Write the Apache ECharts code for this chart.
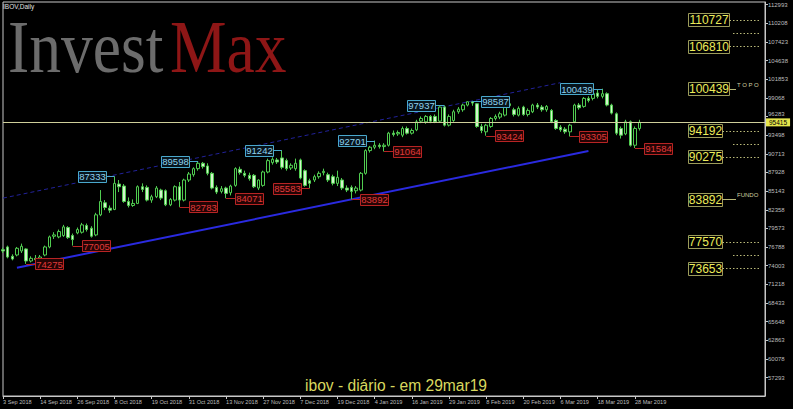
<!DOCTYPE html>
<html><head><meta charset="utf-8">
<script src="https://cdn.jsdelivr.net/npm/echarts@6/dist/echarts.min.js"></script>
<style>html,body{margin:0;padding:0;background:#000;}#c{width:793px;height:409px;}</style>
</head><body><div id="c"></div>
<script>
// ---------- DATA ----------
const sessionDays = [
  ['Sep', '2018', [3,4,5,6,10,11,12,13,14,17,18,19,20,21,24,25,26,27,28]],
  ['Oct', '2018', [1,2,3,4,5,8,9,10,11,15,16,17,18,19,22,23,24,25,26,29,30,31]],
  ['Nov', '2018', [1,5,6,7,8,9,12,13,14,16,19,21,22,23,26,27,28,29,30]],
  ['Dec', '2018', [3,4,5,6,7,10,11,12,13,14,17,18,19,20,21,26,27,28]],
  ['Jan', '2019', [2,3,4,7,8,9,10,11,14,15,16,17,18,21,22,23,24,28,29,30,31]],
  ['Feb', '2019', [1,4,5,6,7,8,11,12,13,14,15,18,19,20,21,22,25,26,27,28]],
  ['Mar', '2019', [1,6,7,8,11,12,13,14,15,18,19,20,21,22,25,26,27,28,29]]
];
const emptySlots = 27; // blank space right of the last bar

// [open, close, low, high]
const ohlc = [
  [76400,76200,75900,76700],[76800,75300,75100,77000],[75400,75000,74800,75700],[75600,76600,75400,76800],
  [76200,76900,75900,77300],[76500,74700,74275,76600],[74700,75100,74500,75400],[75100,74900,74600,75600],
  [74900,75300,74700,75600],[75600,76800,75400,77000],[76800,78300,76600,78500],[78400,78600,78000,79000],
  [78300,79100,78100,79400],[78500,79800,78300,80100],[79700,78200,78000,79900],[78500,77900,77005,78800],
  [78900,79400,78700,79700],[79000,80100,78800,80400],[80000,79400,79100,80300],[79600,78400,78200,79900],
  [78600,81600,78400,81900],[81600,83600,81400,85300],[83400,82700,82300,83800],[82600,82300,81900,83000],
  [82400,86300,82300,87333],[86200,85800,85000,86800],[85900,83600,83400,86200],[83600,83000,82700,84200],
  [83000,83300,82800,83900],[83300,85800,83200,86000],[85800,85400,85000,86300],[85700,83800,83600,86000],
  [83800,84300,83400,84600],[84300,85600,84100,85900],[85300,84100,83800,85500],[85200,83100,82900,85400],
  [83100,83900,82900,84100],[83800,85800,83600,86000],[85800,83800,82783,86500],[83800,86800,83600,87000],
  [86800,87700,86500,88000],[87600,88500,87300,88700],[88500,89300,88200,89598],[89300,88800,88500,89500],
  [88900,87800,87500,89300],[87800,85600,85400,88000],[85700,85000,84700,86000],[85100,85500,84800,85900],
  [85600,84800,84071,85800],[84900,85900,84500,86100],[86000,88500,85800,88700],[88400,87900,87600,88800],
  [87800,87500,87200,88200],[87500,87000,86700,87900],[87500,85800,85600,87700],[85600,86800,85300,86900],
  [86000,88000,85800,88200],[88000,89700,87800,90000],[89400,89900,89100,90200],[89800,89500,89200,90100],
  [90100,88700,88400,91242],[89700,88500,88200,90000],[88600,89000,88300,89300],[88500,89300,88200,90000],
  [89800,87100,86900,90000],[88200,86000,85800,88400],[86700,86300,85583,87000],[86800,87300,86500,87600],
  [87300,87800,87000,88100],[87900,88100,87500,88500],[87600,86800,86500,87900],[87300,86300,86000,87600],
  [86300,87200,85900,88200],[86800,85600,85300,87100],[85600,85300,85000,86000],[85700,85100,83892,86000],
  [85200,85600,84800,85900],[85300,87800,85100,88000],[87800,91200,87600,91400],[91200,91700,90900,91900],
  [91700,92000,91400,92701],[92000,91800,91500,92300],[91800,92000,91064,92300],[92000,93800,91800,94000],
  [93800,93600,93300,94200],[93700,93900,93400,94200],[93500,94500,93200,94800],[94500,93800,93600,94800],
  [93800,94200,93600,94500],[94300,95500,94100,95800],[95600,96000,95300,96300],[95500,96300,95200,96500],
  [96300,95600,95300,96500],[96300,95500,95300,96600],[95600,97700,95400,97800],[97700,95000,94800,97937],
  [95000,96300,94800,96600],[95700,97000,95500,97300],[97000,97400,96700,97700],[97300,98000,97000,98200],
  [98000,98500,97800,98550],[98500,98300,97900,98587],[98200,94800,94600,98300],[94800,94200,93800,95200],
  [94000,95000,93424,95200],[94800,96000,94600,96200],[96000,96300,95700,96600],[96200,96700,95900,97000],
  [96500,98000,96300,98200],[97900,98200,97600,98400],[97300,96600,96300,97600],[96500,97500,96300,97800],
  [97700,96600,96400,97900],[96600,97200,96300,97500],[97000,98000,96800,98200],[98000,97700,97400,98300],
  [97700,97300,97000,98000],[97300,97800,97000,98000],[97200,95500,95300,97400],[95700,94500,94300,95900],
  [94700,94300,94000,95000],[94400,94000,93700,94700],[94000,95000,93305,95200],[95500,98000,95300,98200],
  [98000,97600,97300,98300],[97800,99000,97600,99200],[99000,98700,98400,99300],[99000,99700,98700,99900],
  [99800,99300,99000,100300],[99300,99700,99000,100439],[99700,98000,97800,99900],[98000,96800,96600,98200],
  [96700,93800,93500,96900],[94500,93500,93000,94800],[93700,95500,93500,95800],[95500,92000,91800,95700],
  [92000,94500,91584,94800],[94500,95415,94200,95800]
];

const yTicks = [57293,60078,62863,65648,68433,71218,74003,76788,79573,82358,85143,87928,90713,93498,96283,99068,101853,104638,107423,110208,112993];
const lastPrice = 95415;

const highIdx = [24, 42, 60, 80, 95, 101, 129];
const highVal = [87333, 89598, 91242, 92701, 97937, 98587, 100439];
const lowIdx  = [5, 15, 38, 48, 66, 75, 82, 104, 122, 136];
const lowVal  = [74275, 77005, 82783, 84071, 85583, 83892, 91064, 93424, 93305, 91584];

const levelValues = [110727, 106810, 100439, 94192, 90275, 83892, 77570, 73653];
const midLevels = [108768, 92233, 75611];
const levelTags = {100439: 'T O P O', 83892: 'FUNDO'};

const upperChannel = [[0, 84097], [120, 101350]];
const lowerChannel = [[3, 73699], [126, 91134]];

// ---------- BUILD ----------
const dates = [];
sessionDays.forEach(([m, y, days]) => days.forEach(d => dates.push(d + ' ' + m + ' ' + y)));
const categories = dates.concat(new Array(emptySlots).fill(''));
const labelEvery = 8;
const showTick = (i) => i % labelEvery === 0 && i < dates.length;

const FONT = '"Liberation Sans", Arial, sans-serif';
const SMALL = '"Liberation Sans", Arial, sans-serif';
const AX = '#c8c8c8';
const AXTXT = '#bdbdbd';

function annot(stroke, fill, txtColor, defaultSide, flipIdx) {
  return function (params, api) {
    const i = api.value(0), v = api.value(1);
    const p = api.coord([i, v]);
    const side = flipIdx.indexOf(i) >= 0 ? -defaultSide : defaultSide;
    const txt = String(v);
    const w = Math.round(txt.length * 5.3 + 1), h = 11, gap = 9;
    const bx = Math.round(side < 0 ? p[0] - gap - w : p[0] + gap) + 0.5;
    const by = Math.round(p[1] - h / 2) + 0.5;
    const yy = Math.round(p[1]) + 0.5;
    return {
      type: 'group',
      children: [
        {type: 'line', shape: {x1: side < 0 ? bx + w : bx, y1: yy, x2: p[0], y2: yy},
         style: {stroke: stroke, lineWidth: 1}},
        {type: 'rect', shape: {x: bx, y: by, width: w, height: h},
         style: {fill: fill, stroke: stroke, lineWidth: 1}},
        {type: 'text', style: {text: txt, x: bx + w / 2, y: p[1] + 0.5, align: 'center', verticalAlign: 'middle',
          fill: txtColor, fontSize: 9.5, fontFamily: FONT}}
      ]
    };
  };
}

function levelItem(params, api) {
  const v = api.value(0);
  const cs = params.coordSys;
  const right = cs.x + cs.width;
  const y = api.coord([0, v])[1];
  const txt = String(v);
  const w = Math.round(txt.length * 6.8), h = 13;
  const bx = Math.round(right - 77) + 0.5;
  const by = Math.round(y - h / 2) + 0.5;
  const yy = Math.round(y) + 0.5;
  const children = [
    {type: 'rect', shape: {x: bx, y: by, width: w, height: h},
     style: {fill: '#000', stroke: '#9c9c5a', lineWidth: 1}},
    {type: 'text', style: {text: txt, x: bx + w / 2, y: y + 0.5, align: 'center', verticalAlign: 'middle',
      fill: '#ecec5a', fontSize: 12, fontFamily: FONT}}
  ];
  const tag = levelTags[v];
  if (tag) {
    children.push({type: 'line', shape: {x1: bx + w, y1: yy, x2: right - 29, y2: yy},
      style: {stroke: '#b8b878', lineWidth: 1}});
    children.push({type: 'text', style: {text: tag, x: right - 28, y: yy - 2, align: 'left', verticalAlign: 'bottom',
      fill: '#d0d0a0', fontSize: 6, fontFamily: FONT}});
  } else {
    children.push({type: 'line', shape: {x1: bx + w, y1: yy, x2: right - 6, y2: yy},
      style: {stroke: '#b8b878', lineWidth: 1, lineDash: [1.5, 2]}});
  }
  return {type: 'group', children: children};
}

function midItem(params, api) {
  const v = api.value(0);
  const cs = params.coordSys;
  const right = cs.x + cs.width;
  const yy = Math.round(api.coord([0, v])[1]) + 0.5;
  return {type: 'line', shape: {x1: right - 32, y1: yy, x2: right - 6, y2: yy},
    style: {stroke: '#b8b878', lineWidth: 1, lineDash: [1.5, 2]}};
}

const chart = echarts.init(document.getElementById('c'), null, {renderer: 'svg'});
chart.setOption({
  backgroundColor: '#000',
  animation: false,
  textStyle: {fontFamily: FONT},
  grid: {left: 1, right: 28, top: 2, bottom: 13, show: true, borderColor: AX, borderWidth: 1,
    backgroundColor: 'transparent'},
  xAxis: {
    type: 'category', data: categories, boundaryGap: false,
    axisLine: {show: true, lineStyle: {color: AX, width: 1}},
    axisTick: {show: true, interval: (i) => showTick(i), length: 3, lineStyle: {color: AX}},
    axisLabel: {interval: (i) => showTick(i), showMinLabel: true, hideOverlap: false, align: 'left',
      fontSize: 5.6, color: AXTXT, margin: 3, fontFamily: SMALL},
    splitLine: {show: false}
  },
  yAxis: {
    type: 'value', position: 'right', min: 54530, max: 113400, scale: true,
    axisLine: {show: true, lineStyle: {color: AX, width: 1}},
    axisTick: {show: true, length: 3, customValues: yTicks, lineStyle: {color: AX}},
    axisLabel: {customValues: yTicks, fontSize: 6, color: AXTXT, margin: 3, fontFamily: SMALL,
      formatter: (v) => (Math.abs(v - lastPrice) < 1200 ? '{up|' + v + '}' : String(v)),
      rich: {up: {fontSize: 6, color: AXTXT, fontFamily: SMALL, padding: [0, 0, 6, 0]}}},
    splitLine: {show: false}
  },
  graphic: [
    {type: 'text', x: 8, y: 47, scaleX: 0.86, z: 0,
     style: {text: 'Invest', x: 0, y: 0, verticalAlign: 'middle', fill: '#6c6c6c',
       fontSize: 74, fontFamily: '"Liberation Serif", "DejaVu Serif", serif'}},
    {type: 'text', x: 170, y: 47, scaleX: 0.86, z: 0,
     style: {text: 'Max', x: 0, y: 0, verticalAlign: 'middle', fill: '#8e1616',
       fontSize: 74, fontFamily: '"Liberation Serif", "DejaVu Serif", serif'}},
    {type: 'text', x: 3, y: 3, z: 10,
     style: {text: 'IBOV,Daily', fill: '#e0e0e0', fontSize: 6.5, fontFamily: SMALL}},
    {type: 'text', x: 305, y: 385, z: 10,
     style: {text: 'ibov - diário - em 29mar19', verticalAlign: 'middle', fill: '#d8d85e', fontSize: 15.6, fontFamily: FONT}}
  ],
  series: [
    {type: 'line', data: upperChannel, symbol: 'none', silent: true, z: 2,
     lineStyle: {color: '#22229a', width: 1, type: [4, 3]}},
    {type: 'line', data: lowerChannel, symbol: 'none', silent: true, z: 2,
     lineStyle: {color: '#2a2ae0', width: 2}},
    {type: 'candlestick', data: ohlc, barWidth: 3, z: 3,
     itemStyle: {color: '#000', color0: '#d4f4cc', borderColor: '#50cc50', borderColor0: '#50cc50', borderWidth: 1},
     markLine: {silent: true, symbol: 'none', animation: false,
       lineStyle: {color: '#cfcf9a', width: 1, type: 'solid'},
       label: {show: true, position: 'end', formatter: String(lastPrice), backgroundColor: '#e6e64c', color: '#000',
         fontSize: 6.5, padding: [1, 3, 0, 3], distance: 1, fontFamily: SMALL},
       data: [{yAxis: lastPrice}]}},
    {type: 'custom', z: 5, encode: {x: 0, y: 1},
     data: highIdx.map((i, k) => [i, highVal[k]]),
     renderItem: annot('#4aa8cc', '#07141c', '#8fd2ee', -1, [101])},
    {type: 'custom', z: 5, encode: {x: 0, y: 1},
     data: lowIdx.map((i, k) => [i, lowVal[k]]),
     renderItem: annot('#b82424', '#240404', '#e03a3a', 1, [66])},
    {type: 'custom', z: 5, encode: {y: 0},
     data: levelValues.map(v => [v]), renderItem: levelItem},
    {type: 'custom', z: 5, encode: {y: 0},
     data: midLevels.map(v => [v]), renderItem: midItem}
  ]
});
</script></body></html>
